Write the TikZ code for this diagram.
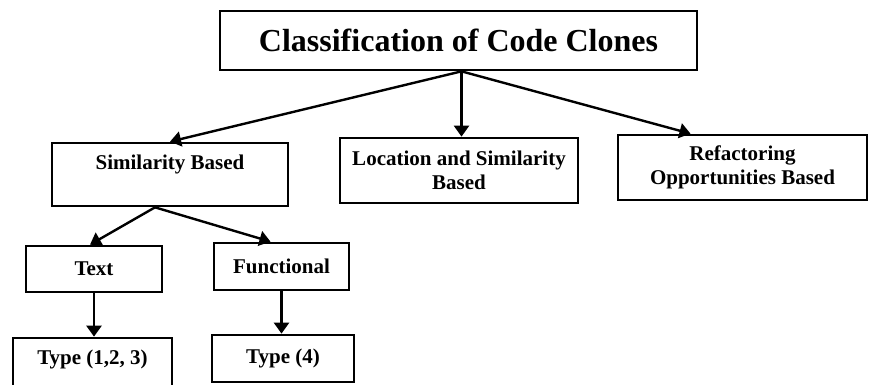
\documentclass[tikz,border=0pt]{standalone}
\usepackage{fontspec}
\setmainfont{Liberation Serif}
\usetikzlibrary{arrows.meta}
\begin{document}
\begin{tikzpicture}[x=1pt,y=-1pt,
    box/.style={draw, line width=2.7pt, inner sep=0pt, align=center,
        font=\bfseries\fontsize{21}{24}\selectfont},
    link/.style={line width=2.4pt, -{Triangle[length=11pt,width=15pt]}}]
	\clip (0,0) rectangle (872,385);
	\node[box, minimum width=477pt, minimum height=59pt, font=\bfseries\fontsize{32}{36}\selectfont]
	    (top) at (458.5,40.5) {Classification of Code Clones};
	\node[box, minimum width=236pt, minimum height=63pt] (sim) at (170,174.5) {Similarity Based\\~};
	\node[box, minimum width=238pt, minimum height=65pt] (loc) at (459,170.5) {Location and Similarity\\Based};
	\node[box, minimum width=249pt, minimum height=65pt] (ref) at (742.5,167.5) {Refactoring\\Opportunities Based};
	\node[box, minimum width=136pt, minimum height=46pt] (text) at (94,269) {Text};
	\node[box, minimum width=135pt, minimum height=47pt] (func) at (281.5,266.5) {Functional};
	\node[box, minimum width=159pt, minimum height=62pt] (type123) at (92.5,369) {Type (1,2, 3)\\~};
	\node[box, minimum width=142pt, minimum height=47pt] (type4) at (283,358.5) {Type (4)};
	% top level
	\coordinate (fan) at ([xshift=3pt]top.south);
	\draw[link] (fan) -- (sim.north);
	\draw[link] (fan) -- (fan |- loc.north);
	\draw[link] (fan) -- ([xshift=-52pt]ref.north);
	% similarity branch
	\draw[link] ([xshift=-15pt]sim.south) -- ([xshift=-4pt]text.north);
	\draw[link] ([xshift=-15pt]sim.south) -- ([xshift=-11pt]func.north);
	\draw[link] (text.south) -- (text.south |- type123.north);
	\draw[link] (func.south) -- (func.south |- type4.north);
\end{tikzpicture}
\end{document}
